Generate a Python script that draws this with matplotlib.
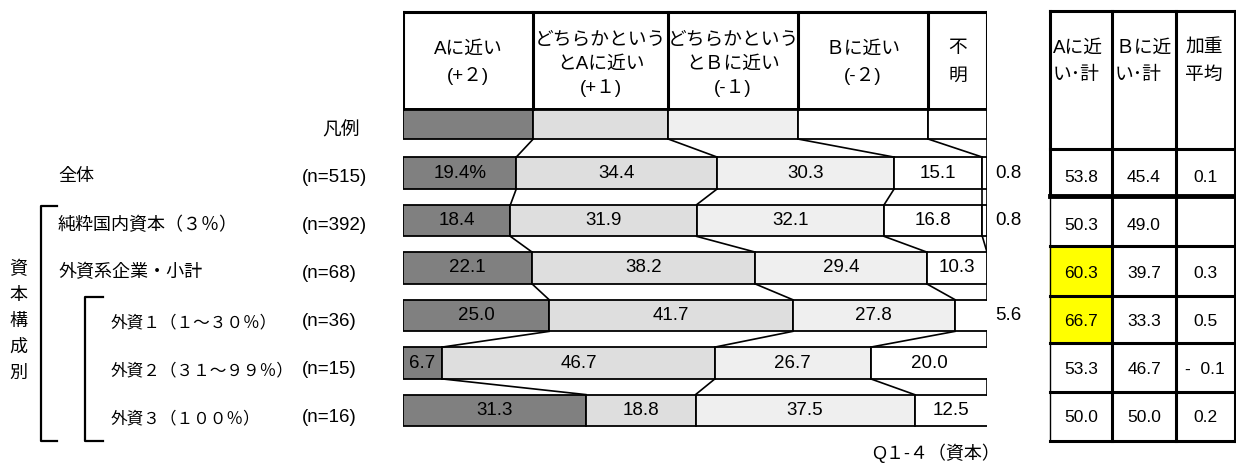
import numpy as np
import matplotlib.pyplot as plt
from matplotlib.patches import Rectangle

plt.rcParams['font.family'] = ['Liberation Sans', 'Noto Sans CJK JP']

# 行ラベルとサンプル数
rows = ['全体', '純粋国内資本（３％）', '外資系企業・小計',
        '外資１（１～３０％）', '外資２（３１～９９％）', '外資３（１００％）']
n_labels = ['(n=515)', '(n=392)', '(n=68)', '(n=36)', '(n=15)', '(n=16)']
indent = [False, False, False, True, True, True]

# 回答比率（%）
near_a = [19.4, 18.4, 22.1, 25.0, 6.7, 31.3]
rather_a = [34.4, 31.9, 38.2, 41.7, 46.7, 18.8]
rather_b = [30.3, 32.1, 29.4, 27.8, 26.7, 37.5]
near_b = [15.1, 16.8, 10.3, np.nan, 20.0, 12.5]
unknown = [0.8, 0.8, np.nan, 5.6, np.nan, np.nan]

# 右側の表
a_total = [53.8, 50.3, 60.3, 66.7, 53.3, 50.0]
b_total = [45.4, 49.0, 39.7, 33.3, 46.7, 50.0]
weighted = [0.1, np.nan, 0.3, 0.5, -0.1, 0.2]
highlight = [False, False, True, True, False, False]

headers = [['Aに近い', '(+２)'],
           ['どちらかという', 'とAに近い', '(+１)'],
           ['どちらかという', 'とＢに近い', '(-１)'],
           ['Ｂに近い', '(-２)'],
           ['不', '明']]
legend_edges = [0, 22.3, 45.4, 67.6, 89.9, 100]
colors = ['#808080', '#dedede', '#efefef', 'white', 'white']

fig = plt.figure(figsize=(12.36, 4.67), dpi=100)

# 全体に重ねるピクセル座標の軸（文字・表）
lay = fig.add_axes([0, 0, 1, 1])
lay.set_xlim(0, 1236)
lay.set_ylim(467, 0)
lay.axis('off')

# 帯グラフ用の軸（1行 = 47.5px）
ax = fig.add_axes([403 / 1236, 0, 584 / 1236, 1])
ax.set_xlim(0, 100)
ax.set_ylim(294 / 47.5, -173 / 47.5)
ax.axis('off')

def px(y):
    # 画像の縦位置(px)を行単位に換算
    return (y - 173) / 47.5

h = 0.67
idx = np.arange(len(rows))
segs = np.array([near_a, rather_a, rather_b, near_b, unknown])
filled = np.nan_to_num(segs)
lefts = np.vstack([np.zeros(len(rows)), np.cumsum(filled, axis=0)[:-1]])
rights = lefts + filled

for k in range(5):
    m = ~np.isnan(segs[k])
    ax.barh(idx[m], segs[k][m], left=lefts[k][m], height=h, color=colors[k],
            edgecolor='black', linewidth=1.3)

for i in idx:
    for k in range(4):
        v = segs[k][i]
        if np.isnan(v):
            continue
        s = f'{v:.1f}%' if (i == 0 and k == 0) else f'{v:.1f}'
        ax.text(lefts[k][i] + v / 2, i, s, ha='center', va='center', fontsize=13.5)
    if not np.isnan(unknown[i]):
        ax.text(101.4, i, f'{unknown[i]:.1f}', ha='left', va='center',
                fontsize=13.5, clip_on=False)

# 行間をつなぐ線
for i in idx[:-1]:
    for k in range(4):
        if np.isnan(segs[k][i]) or np.isnan(segs[k][i + 1]):
            continue
        ax.plot([rights[k][i], rights[k][i + 1]], [i + h / 2, i + 1 - h / 2],
                color='black', lw=1.2)
    ax.plot([100, 100], [i + h / 2, i + 1 - h / 2], color='black', lw=1.2)

# 凡例の帯
leg_y = px(124)
leg_h = 30 / 47.5
leg_w = np.diff(legend_edges)
ax.barh(leg_y, leg_w, left=legend_edges[:-1], height=leg_h, color=colors,
        edgecolor='black', linewidth=1.3)
for k in range(4):
    ax.plot([legend_edges[k + 1], rights[k][0]], [leg_y + leg_h / 2, -h / 2],
            color='black', lw=1.2)
ax.plot([100, 100], [leg_y + leg_h / 2, -h / 2], color='black', lw=1.2)

# 見出し枠
top = px(12)
bot = leg_y - leg_h / 2
for x in legend_edges:
    ax.plot([x, x], [top, bot], color='black', lw=2.2, solid_capstyle='projecting')
ax.plot([0, 100], [top, top], color='black', lw=2.2)
ax.plot([0, 100], [bot, bot], color='black', lw=2.0)
line_pos = {2: [49, 76], 3: [40, 64, 88]}
for k, lines in enumerate(headers):
    cx = (legend_edges[k] + legend_edges[k + 1]) / 2
    for ln, y in zip(lines, line_pos[len(lines)]):
        ax.text(cx, px(y), ln, ha='center', va='center', fontsize=13.5)

# 左側のラベル
label_y = [177, 225, 273, 322, 370, 418]
lay.text(341, 131, '凡例', ha='center', va='center', fontsize=13.5)
for name, n, ind, y in zip(rows, n_labels, indent, label_y):
    lay.text(111 if ind else 58, y, name, ha='left', va='center',
             fontsize=12 if ind else 13)
    lay.text(302, y, n, ha='left', va='center', fontsize=13.5)

# 括弧
lay.plot([57, 41, 41, 57], [206, 206, 441, 441], color='black', lw=1.6)
lay.plot([103, 85, 85, 103], [297, 297, 441, 441], color='black', lw=1.6)
for j, ch in enumerate('資本構成別'):
    lay.text(18, 270 + 25.8 * j, ch, ha='center', va='center', fontsize=13)

lay.text(1000, 453, 'Q１-４（資本）', ha='right', va='center', fontsize=13)

# 右側の表
col_x = [1050, 1112, 1176, 1234.5]
row_y = [11, 149, 196, 246, 296, 343, 392, 441]
for i in idx:
    if highlight[i]:
        lay.add_patch(Rectangle((col_x[0], row_y[i + 1]), col_x[1] - col_x[0],
                                row_y[i + 2] - row_y[i + 1], color='#ffff00', zorder=0))
for x in col_x[1:]:
    lay.plot([x, x], [row_y[0], row_y[-1]], color='black', lw=2.2)
lay.plot([col_x[0], col_x[0]], [row_y[0], row_y[2]], color='black', lw=2.2)
lay.plot([col_x[0], col_x[0]], [row_y[2], row_y[-1]], color='black', lw=1.0)
for j, y in enumerate(row_y):
    lay.plot([col_x[0], col_x[-1]], [y, y], color='black', lw=3.5 if j == 2 else 2.2)

tbl_heads = [['Aに近', 'い･計'], ['Ｂに近', 'い･計'], ['加重', '平均']]
tbl_x = [1053, 1115, 1185]
for x, lines in zip(tbl_x, tbl_heads):
    for ln, y in zip(lines, [48, 75]):
        lay.text(x, y, ln, ha='left', va='center', fontsize=13.5)

cx = [(col_x[c] + col_x[c + 1]) / 2 for c in range(3)]
for i in idx:
    y = label_y[i]
    lay.text(cx[0], y, f'{a_total[i]:.1f}', ha='center', va='center', fontsize=12.5)
    lay.text(cx[1], y, f'{b_total[i]:.1f}', ha='center', va='center', fontsize=12.5)
    w = weighted[i]
    if not np.isnan(w):
        s = f'{w:.1f}' if w >= 0 else f'-  {abs(w):.1f}'
        lay.text(cx[2], y, s, ha='center', va='center', fontsize=12.5)

fig.savefig('out.png', dpi=100)
